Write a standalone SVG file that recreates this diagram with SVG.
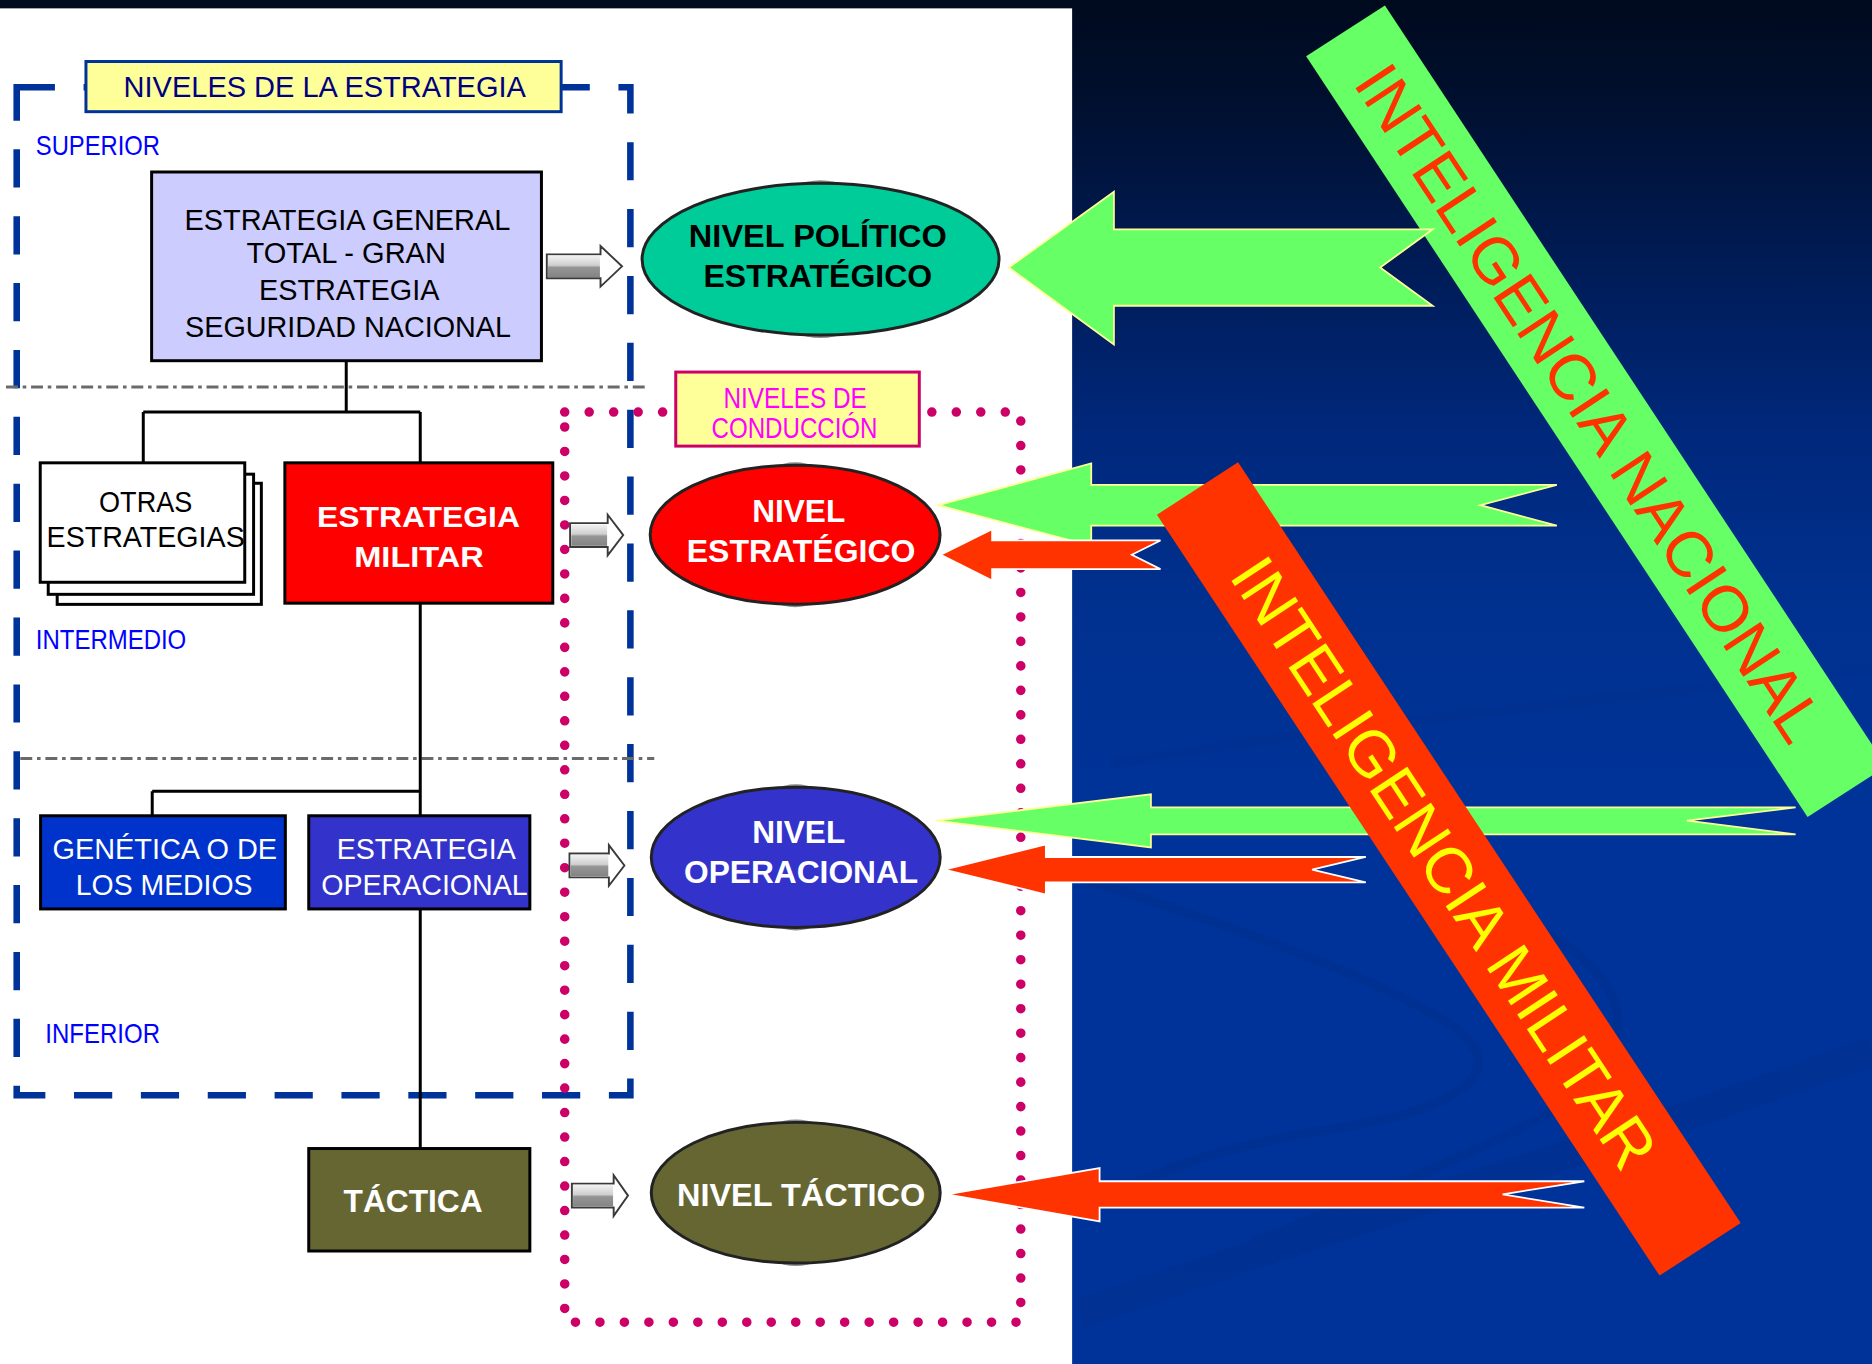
<svg xmlns="http://www.w3.org/2000/svg" width="1872" height="1364" viewBox="0 0 1872 1364">
<defs>
<linearGradient id="bg" x1="0" y1="0" x2="0" y2="1">
<stop offset="0" stop-color="#000a1e"/>
<stop offset="0.08" stop-color="#001030"/>
<stop offset="0.2" stop-color="#001c58"/>
<stop offset="0.32" stop-color="#00287c"/>
<stop offset="0.45" stop-color="#003190"/>
<stop offset="0.6" stop-color="#003399"/>
<stop offset="1" stop-color="#003399"/>
</linearGradient>
<linearGradient id="shaft" x1="0" y1="0" x2="0" y2="1">
<stop offset="0" stop-color="#f2f2f2"/>
<stop offset="0.45" stop-color="#cfcfcf"/>
<stop offset="0.55" stop-color="#959595"/>
<stop offset="1" stop-color="#848484"/>
</linearGradient>
<style>
.t{font-family:'Liberation Sans',Arial,Helvetica,sans-serif;}
.b{font-weight:bold;}
.box{stroke:#000;stroke-width:2.5;}
.conn{stroke:#000;stroke-width:2.5;fill:none;}
.ell{stroke:#222;stroke-width:2.5;}
.bevel{fill:#8c8c8c;}
.ga{fill:#66ff66;stroke:#ffff99;stroke-width:1.5;}
.ra{fill:#ff3300;stroke:#ffffff;stroke-width:1.5;}
.ha{fill:#fff;stroke:#3a3a3a;stroke-width:1.6;}
.lvl{fill:#0000ff;font-size:23px;}
.dd{stroke:#6a6a6a;stroke-width:2.5;stroke-dasharray:10 4 3 4;fill:none;}
</style>
</defs>
<g transform="scale(1.1939 1.1944)">
<!-- background -->
<rect x="0" y="0" width="1568" height="1142" fill="url(#bg)"/>
<g id="swirls" fill="none" stroke="#00308f" opacity="0.6">
<path d="M905,735 C1000,765 1150,815 1215,858 C1270,895 1225,930 1110,946 C1000,962 930,1000 905,1012" stroke-width="8"/>
<path d="M930,640 C1100,610 1300,590 1568,560" stroke-width="8"/>
<path d="M905,1100 C1100,1030 1350,960 1568,880" stroke-width="24"/>
<path d="M1250,760 C1350,800 1400,860 1300,930 C1250,960 1150,1000 1050,1040" stroke-width="8"/>
</g>
<rect x="0" y="7" width="898" height="1135" fill="#ffffff"/>

<!-- frames -->
<g id="frame-estrategia">
<rect x="14" y="73" width="514" height="844" fill="none" stroke="#003399" stroke-width="5.5" stroke-dasharray="32 24"/>
</g>
<g id="dividers">
<line class="dd" x1="5" y1="324" x2="542" y2="324"/>
<line class="dd" x1="17" y1="635" x2="548" y2="635"/>
</g>
<g id="frame-conduccion">
<rect x="473" y="345" width="382" height="762" fill="none" stroke="#cc0066" stroke-width="8" stroke-linecap="round" stroke-dasharray="0 20.5"/>
</g>

<!-- level labels -->
<g id="title-estrategia">
<rect x="72" y="51.5" width="398" height="42" fill="#ffff99" stroke="#003399" stroke-width="2.5"/>
<text class="t" x="272" y="81" font-size="24" fill="#000080" text-anchor="middle" textLength="337" lengthAdjust="spacingAndGlyphs">NIVELES DE LA ESTRATEGIA</text>
</g>
<g id="title-conduccion">
<rect x="566" y="311.5" width="204" height="62" fill="#ffff99" stroke="#cc0066" stroke-width="2.5"/>
<text class="t" x="666" y="342" font-size="25" fill="#ff00ff" text-anchor="middle" textLength="120" lengthAdjust="spacingAndGlyphs">NIVELES DE</text>
<text class="t" x="665.5" y="367" font-size="25" fill="#ff00ff" text-anchor="middle" textLength="139" lengthAdjust="spacingAndGlyphs">CONDUCCIÓN</text>
</g>
<text id="lbl-superior" class="t lvl" x="30" y="130" textLength="104" lengthAdjust="spacingAndGlyphs">SUPERIOR</text>
<text id="lbl-intermedio" class="t lvl" x="30" y="543" textLength="126" lengthAdjust="spacingAndGlyphs">INTERMEDIO</text>
<text id="lbl-inferior" class="t lvl" x="38" y="873" textLength="96" lengthAdjust="spacingAndGlyphs">INFERIOR</text>

<!-- connectors -->
<g id="connectors">
<path class="conn" d="M290,302 V345 M120,345 H352 M120,345 V387.5 M352,345 V387.5 M352,505 V683 M127.5,662.5 H352 M127.5,662.5 V683 M352,761 V961.6"/>
<g id="hollow-arrows">
<path class="ha" d="M458,213 H503 V206 L521,223 L503,240 V233 H458 Z"/>
<rect x="459" y="214" width="43.5" height="18" fill="url(#shaft)"/>
<path class="ha" d="M477.5,438 H509 V431 L522,448 L509,465 V458 H477.5 Z"/>
<rect x="478.5" y="439" width="30" height="18" fill="url(#shaft)"/>
<path class="ha" d="M477,714.6 H510 V707.6 L523,724.6 L510,741.6 V734.6 H477 Z"/>
<rect x="478" y="715.6" width="31.5" height="18" fill="url(#shaft)"/>
<path class="ha" d="M479,991 H514 V984 L526,1001 L514,1018 V1011 H479 Z"/>
<rect x="480" y="992" width="33.5" height="18" fill="url(#shaft)"/>
</g>
</g>

<!-- nodes -->
<g id="n-general">
<rect class="box" x="127" y="144" width="326.5" height="158" fill="#ccccff"/>
<text class="t" x="291" y="192.5" font-size="25" text-anchor="middle" textLength="273" lengthAdjust="spacingAndGlyphs">ESTRATEGIA GENERAL</text>
<text class="t" x="290" y="220.5" font-size="25" text-anchor="middle" textLength="167" lengthAdjust="spacingAndGlyphs">TOTAL - GRAN</text>
<text class="t" x="292.5" y="251" font-size="25" text-anchor="middle" textLength="151" lengthAdjust="spacingAndGlyphs">ESTRATEGIA</text>
<text class="t" x="291.5" y="282" font-size="25" text-anchor="middle" textLength="273" lengthAdjust="spacingAndGlyphs">SEGURIDAD NACIONAL</text>
</g>
<g id="n-otras">
<rect class="box" x="47.9" y="404.6" width="171" height="101.4" fill="#fff"/>
<rect class="box" x="40.4" y="397" width="172" height="100.6" fill="#fff"/>
<rect class="box" x="33.7" y="387.5" width="171.3" height="100" fill="#fff"/>
<text class="t" x="122" y="429" font-size="24.5" text-anchor="middle" textLength="78" lengthAdjust="spacingAndGlyphs">OTRAS</text>
<text class="t" x="122" y="458" font-size="24.5" text-anchor="middle" textLength="166" lengthAdjust="spacingAndGlyphs">ESTRATEGIAS</text>
</g>
<g id="n-militar">
<rect class="box" x="238.6" y="387.5" width="224.4" height="117.5" fill="#ff0000"/>
<text class="t b" x="350.5" y="441" font-size="25" fill="#fff" text-anchor="middle" textLength="170" lengthAdjust="spacingAndGlyphs">ESTRATEGIA</text>
<text class="t b" x="351" y="475" font-size="25" fill="#fff" text-anchor="middle" textLength="108.6" lengthAdjust="spacingAndGlyphs">MILITAR</text>
</g>
<g id="n-genetica">
<rect class="box" x="34" y="683" width="205" height="78" fill="#0033cc"/>
<text class="t" x="138" y="719" font-size="25" fill="#fff" text-anchor="middle" textLength="188" lengthAdjust="spacingAndGlyphs">GENÉTICA O DE</text>
<text class="t" x="137.5" y="749" font-size="25" fill="#fff" text-anchor="middle" textLength="148" lengthAdjust="spacingAndGlyphs">LOS MEDIOS</text>
</g>
<g id="n-operacional">
<rect class="box" x="258.6" y="683" width="185.2" height="78" fill="#3333cc"/>
<text class="t" x="357" y="719" font-size="25" fill="#fff" text-anchor="middle" textLength="150" lengthAdjust="spacingAndGlyphs">ESTRATEGIA</text>
<text class="t" x="355.5" y="749" font-size="25" fill="#fff" text-anchor="middle" textLength="173" lengthAdjust="spacingAndGlyphs">OPERACIONAL</text>
</g>
<g id="n-tactica">
<rect class="box" x="258.6" y="961.6" width="185.2" height="85.8" fill="#666633"/>
<text class="t b" x="346" y="1015" font-size="27" fill="#fff" text-anchor="middle" textLength="116.5" lengthAdjust="spacingAndGlyphs">TÁCTICA</text>
</g>
<g id="e-politico">
<ellipse class="bevel" cx="687.3" cy="217" rx="60" ry="66"/>
<ellipse class="ell" cx="687.3" cy="217" rx="149.5" ry="63.5" fill="#00cc99"/>
<text class="t b" x="685" y="207" font-size="27" fill="#000" text-anchor="middle" textLength="216" lengthAdjust="spacingAndGlyphs">NIVEL POLÍTICO</text>
<text class="t b" x="685" y="240.6" font-size="27" fill="#000" text-anchor="middle" textLength="191.5" lengthAdjust="spacingAndGlyphs">ESTRATÉGICO</text>
</g>
<g id="e-estrategico">
<ellipse class="bevel" cx="666" cy="447.7" rx="50" ry="60.7"/>
<ellipse class="ell" cx="666" cy="447.7" rx="121.4" ry="58.2" fill="#ff0000"/>
<text class="t b" x="669" y="437" font-size="27" fill="#fff" text-anchor="middle" textLength="78" lengthAdjust="spacingAndGlyphs">NIVEL</text>
<text class="t b" x="671" y="470.5" font-size="27" fill="#fff" text-anchor="middle" textLength="191.5" lengthAdjust="spacingAndGlyphs">ESTRATÉGICO</text>
</g>
<g id="e-operacional">
<ellipse class="bevel" cx="666.5" cy="717.8" rx="50" ry="61.2"/>
<ellipse class="ell" cx="666.5" cy="717.8" rx="121" ry="58.7" fill="#3333cc"/>
<text class="t b" x="669" y="706" font-size="27" fill="#fff" text-anchor="middle" textLength="78" lengthAdjust="spacingAndGlyphs">NIVEL</text>
<text class="t b" x="671" y="739" font-size="27" fill="#fff" text-anchor="middle" textLength="196" lengthAdjust="spacingAndGlyphs">OPERACIONAL</text>
</g>
<g id="e-tactico">
<ellipse class="bevel" cx="666.5" cy="998.6" rx="50" ry="61.4"/>
<ellipse class="ell" cx="666.5" cy="998.6" rx="121" ry="58.9" fill="#666633"/>
<text class="t b" x="671" y="1010" font-size="27" fill="#fff" text-anchor="middle" textLength="208" lengthAdjust="spacingAndGlyphs">NIVEL TÁCTICO</text>
</g>

<!-- intelligence bands (nacional drawn under its arrow tail) -->
<g id="band-nacional">
<polygon points="1094,47 1160,4.6 1580,641.5 1514,684" fill="#66ff66"/>
<text class="t" transform="translate(1332,337) rotate(56.6)" x="0" y="19.3" font-size="54" fill="#ff3300" text-anchor="middle" textLength="666" lengthAdjust="spacingAndGlyphs">INTELIGENCIA NACIONAL</text>
</g>

<!-- intelligence arrows -->
<g id="intel-arrows">
<polygon class="ga" points="845,224 933,160.5 933,192 1200,192 1156,224 1200,256 933,256 933,288.5"/>
<polygon class="ga" points="786,423 914,388 914,406 1304,406 1240,423 1304,440 914,440 914,457"/>
<polygon class="ra" points="788,464.5 831,443 831,452.5 972,452.5 948,464.5 972,476.5 831,476.5 831,486"/>
<polygon class="ga" points="784,687 964,665 964,676 1504,676 1413,687 1504,698.5 964,698.5 964,709.5"/>
<polygon class="ra" points="791,728 876,707 876,717.5 1144,717.5 1099,728 1144,738.7 876,738.7 876,749"/>
<polygon class="ra" points="793,1000 921,978 921,989 1327,989 1258.5,1000 1327,1011 921,1011 921,1022.6"/>
</g>

<g id="band-militar">
<polygon points="969,431 1037,387 1458,1024 1390,1068" fill="#ff3300"/>
<text class="t" transform="translate(1210,722) rotate(56.6)" x="0" y="19.3" font-size="54" fill="#ffff00" text-anchor="middle" textLength="600" lengthAdjust="spacingAndGlyphs">INTELIGENCIA MILITAR</text>
</g>
</g>
</svg>
